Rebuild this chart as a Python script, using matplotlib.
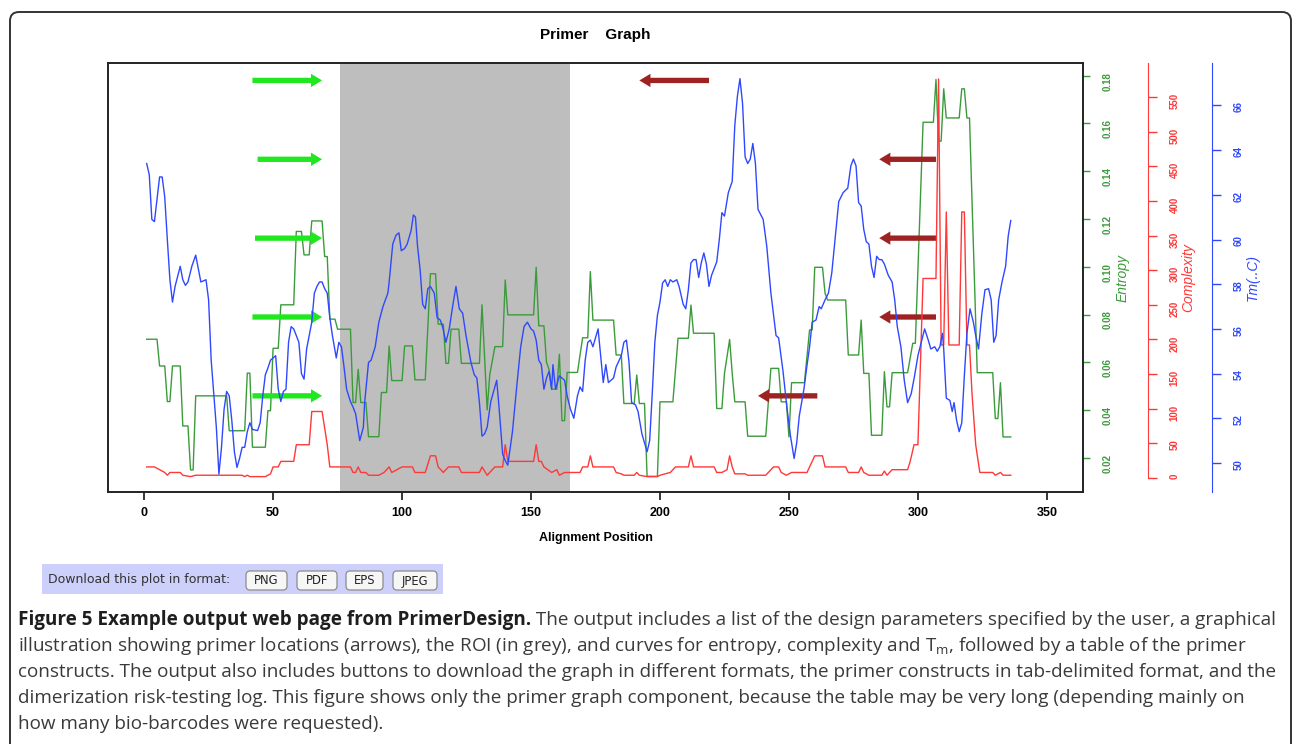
import matplotlib.pyplot as plt
from matplotlib.patches import FancyBboxPatch, Rectangle

# ---- data ----
ent_pos = [1, 5, 6, 8, 9, 10, 11, 14, 15, 17, 18, 19, 20, 32, 33, 39, 40, 41, 42, 47,
           48, 49, 50, 52, 53, 58, 59, 61, 62, 64, 65, 69, 70, 71, 72, 74, 75, 80, 81, 82,
           83, 84, 86, 87, 91, 92, 94, 95, 96, 100, 101, 104, 105, 109, 111, 113, 114, 116, 117, 118,
           119, 122, 123, 130, 131, 133, 134, 136, 139, 140, 141, 151, 152, 153, 155, 156, 157, 158, 160, 161,
           162, 163, 164, 168, 170, 172, 173, 174, 182, 183, 185, 186, 190, 191, 192, 194, 195, 199, 200, 205,
           207, 211, 212, 213, 221, 222, 224, 225, 227, 228, 229, 233, 234, 241, 243, 246, 247, 249, 250, 251,
           256, 258, 259, 260, 263, 264, 265, 272, 273, 277, 278, 279, 281, 282, 286, 287, 288, 289, 290, 296,
           298, 299, 302, 306, 307, 308, 309, 310, 311, 316, 317, 318, 319, 320, 323, 329, 330, 331, 332, 333,
           336]
ent_val = [.0697, .0697, .0585, .0585, .0436, .0436, .0585, .0585, .0334, .0334, .015, .015, .046, .046, .0314, .0314, .0555, .0555, .0245, .0245,
           .0398, .0398, .0659, .0659, .0841, .0841, .1148, .1148, .105, .105, .1192, .1192, .1043, .1043, .0781, .0781, .0739, .0739, .0432, .0432,
           .0571, .0432, .0432, .0289, .0289, .0474, .0474, .0669, .0524, .0524, .0669, .0669, .0527, .0527, .0971, .0971, .076, .076, .0596, .0596,
           .0739, .0739, .0596, .0596, .0841, .0401, .0548, .0666, .0666, .0945, .0799, .0799, .0998, .0753, .0753, .0601, .057, .0488, .0488, .0634,
           .0356, .0356, .0558, .0558, .0703, .0703, .098, .0777, .0777, .0631, .0631, .0428, .0428, .0547, .0428, .0428, .0123, .0123, .0435, .0435,
           .0701, .0701, .084, .0722, .0722, .0407, .0407, .0554, .0696, .0554, .0435, .0435, .0291, .0291, .0575, .0575, .0435, .0435, .0288, .0515,
           .0515, .0736, .0736, .0998, .0998, .0889, .0861, .0861, .0631, .0631, .0777, .0554, .0554, .0295, .0295, .0561, .0414, .0414, .0557, .0557,
           .068, .068, .1605, .1605, .1784, .1526, .1526, .1745, .1623, .1623, .1745, .1745, .1623, .1623, .0557, .0557, .0365, .0365, .0515, .0288,
           .0288]

cx_pos = [1, 4, 6, 8, 9, 10, 14, 15, 18, 20, 38, 39, 40, 41, 47, 49, 50, 52, 53, 58,
          59, 64, 65, 69, 71, 72, 80, 81, 82, 83, 84, 86, 87, 91, 93, 95, 96, 100, 104, 105,
          109, 111, 113, 114, 116, 118, 122, 123, 130, 131, 133, 134, 136, 139, 140, 141, 151, 152, 153, 154,
          155, 158, 160, 161, 163, 169, 170, 172, 173, 174, 182, 183, 185, 186, 190, 191, 192, 195, 199, 200,
          204, 206, 211, 212, 213, 221, 222, 224, 226, 227, 228, 229, 233, 234, 241, 242, 244, 246, 247, 249,
          251, 257, 258, 260, 263, 264, 272, 273, 277, 278, 279, 281, 286, 287, 288, 290, 296, 297, 298.5, 300,
          302, 307, 308, 309, 310, 311, 312, 316, 317, 318, 319, 320, 321, 322.4, 324, 329, 330, 332, 333, 336]
cx_val = [16, 16, 12, 8, 4, 8, 8, 4, 2, 4, 4, 2, 4, 2, 2, 6, 16, 16, 24, 24,
          48, 48, 96, 96, 48, 16, 16, 8, 8, 16, 8, 8, 4, 4, 8, 16, 8, 16, 16, 8,
          8, 32, 32, 16, 8, 16, 16, 8, 8, 16, 4, 8, 16, 16, 48, 24, 24, 48, 24, 24,
          16, 8, 12, 4, 8, 8, 16, 16, 32, 16, 16, 8, 6, 4, 4, 8, 4, 2, 2, 4,
          8, 16, 16, 32, 16, 16, 8, 8, 12, 32, 16, 6, 6, 4, 4, 8, 16, 16, 8, 4,
          8, 8, 16, 32, 32, 16, 16, 8, 8, 16, 8, 4, 4, 10, 4, 12, 12, 24, 48, 48,
          288, 288, 576, 192, 192, 384, 192, 192, 384, 384, 192, 192, 120, 48, 8, 8, 4, 8, 4, 4]

tm_pos = [1, 2, 3, 4, 5, 6, 7, 8, 9, 10, 11, 12, 14, 15, 16, 17, 18.5, 20, 21, 22,
          24, 25, 26, 28, 29, 30, 31, 32, 33, 34, 35, 36, 37, 38, 39, 40, 41, 42, 44, 45,
          46, 47, 48, 49, 51, 52, 53, 54, 55, 56, 57, 58, 60, 61, 62, 63, 65, 66, 67, 68,
          69, 70, 71, 72, 73, 74.5, 75.5, 76.5, 77.5, 78.5, 80, 81, 82, 83.6, 85, 85.5, 87, 88, 89.6, 91,
          92.6, 94.5, 95, 96.4, 97.7, 98.8, 99.7, 101, 102, 103.5, 104.4, 105.2, 106, 107, 108, 109, 110, 111, 112.5, 113.6,
          114.8, 115.7, 117, 118.3, 119.6, 120.9, 122.2, 123.5, 124.8, 126.7, 128, 129, 130, 131, 132, 133, 134.4, 136.7, 137.6, 139,
          140, 141, 142.8, 144.7, 146, 147.3, 148.6, 150, 151, 152, 153, 154, 155, 156, 157, 158, 158.5, 159.5, 161, 163,
          164, 165.3, 166.6, 168, 169, 170, 171, 172, 173, 174, 176, 177, 178, 179, 180, 182, 183, 185, 186, 187,
          188, 189, 190.5, 191.5, 193, 194, 195, 196, 197, 198, 199, 200, 201, 202, 203, 204, 205, 206.5, 207.4, 209,
          210, 211, 212, 213, 214, 215, 216, 217, 218, 219, 220, 222, 223, 224, 225, 226.5, 228, 229, 230, 231,
          232, 233, 234, 235, 236, 237, 238, 240, 241.4, 243, 245, 246, 247.7, 249.3, 250.6, 252, 253, 254, 255.8, 256.8,
          258, 259, 260.5, 261.7, 262.5, 264, 265.3, 266.6, 268, 269.3, 271, 272.8, 274, 275, 276, 277, 278, 279, 280, 281,
          282, 283, 284, 285, 286, 287, 288.5, 290, 291, 292, 293.4, 294.7, 296, 297.4, 298.7, 300, 301.3, 302.6, 304, 305,
          306.5, 307.5, 308.5, 309.5, 310, 311, 312.4, 313.3, 314, 315, 316, 317, 318, 319, 320.2, 321.5, 322.4, 323.5, 324.8, 326,
          327.4, 328.4, 329.4, 330.3, 331.3, 332.6, 334, 335, 336]
tm_val = [63.4, 62.9, 60.9, 60.8, 61.8, 62.8, 62.8, 61.9, 60.0, 58.2, 57.2, 57.9, 58.8, 58.2, 57.95, 58.1, 58.8, 59.3, 58.7, 58.1,
          58.2, 57.3, 54.6, 51.6, 49.5, 50.7, 52.4, 53.2, 53.0, 51.9, 50.5, 49.8, 50.2, 50.7, 50.7, 51.4, 51.8, 51.5, 51.45, 51.8,
          53.0, 53.95, 54.25, 54.6, 54.8, 53.3, 52.75, 53.2, 53.3, 55.4, 56.1, 56.0, 55.4, 54.0, 53.75, 55.1, 56.3, 57.6, 57.9, 58.1,
          58.1, 57.8, 57.6, 56.5, 55.7, 54.7, 55.4, 55.2, 54.3, 53.3, 52.75, 52.5, 52.2, 51.0, 51.6, 52.7, 54.5, 54.6, 55.2, 56.3,
          57.0, 57.6, 58.1, 59.8, 60.2, 60.3, 59.5, 59.6, 59.8, 60.4, 61.1, 61.0, 59.7, 58.65, 57.1, 56.9, 57.8, 57.9, 57.6, 56.5,
          56.4, 56.1, 55.4, 56.0, 57.0, 57.9, 56.9, 56.7, 55.7, 54.5, 53.95, 53.8, 52.7, 51.2, 51.3, 51.6, 52.75, 53.7, 52.5, 50.4,
          50.1, 49.9, 51.4, 53.7, 55.2, 56.1, 56.3, 56.0, 55.9, 55.5, 54.6, 54.4, 53.3, 53.8, 54.1, 53.3, 54.4, 53.3, 53.9, 53.7,
          53.0, 52.4, 52.0, 53.0, 53.4, 53.2, 54.6, 55.4, 55.5, 55.2, 56.0, 54.8, 53.6, 54.4, 53.6, 53.8, 54.3, 54.8, 55.4, 55.5,
          54.5, 52.7, 52.6, 52.3, 51.3, 50.9, 50.5, 51.0, 53.1, 55.4, 56.6, 57.2, 58.05, 58.2, 57.9, 58.2, 58.1, 58.2, 57.9, 57.1,
          56.9, 57.75, 58.95, 59.1, 59.1, 58.3, 58.95, 59.4, 58.9, 57.9, 58.4, 59.0, 60.0, 61.2, 61.05, 62.1, 62.6, 65.1, 66.4, 67.2,
          66.1, 63.7, 63.4, 63.6, 64.3, 63.4, 61.35, 60.9, 59.7, 57.6, 55.7, 55.6, 54.1, 52.4, 51.2, 50.2, 50.9, 52.1, 53.3, 54.2,
          55.2, 56.3, 56.4, 57.0, 56.9, 57.3, 57.6, 58.5, 60.15, 61.7, 62.1, 62.3, 63.3, 63.6, 63.3, 61.65, 61.5, 60.45, 59.9, 59.8,
          58.8, 58.3, 59.25, 59.1, 59.1, 58.9, 58.4, 58.1, 57.3, 56.1, 55.2, 53.7, 52.7, 53.1, 53.9, 54.8, 55.4, 56.0, 55.5, 55.1,
          55.2, 55.0, 55.2, 55.8, 55.1, 52.9, 52.8, 52.3, 52.7, 51.9, 51.4, 51.8, 53.9, 55.8, 56.9, 56.3, 55.7, 55.1, 56.7, 57.75,
          57.8, 57.3, 55.4, 55.7, 57.3, 58.1, 58.8, 60.15, 60.85]

roi_start, roi_end = 76, 165

# primer arrows: forward (green) and reverse (dark red)
arrow_rows = [0.178, 0.145, 0.112, 0.079, 0.046]
fwd_start = [42, 44, 43, 42, 42]
fwd_end = [69, 69, 69, 69, 69]
rev_start = [219, 307, 307, 307, 261]
rev_end = [192, 285, 285, 285, 238]

x_ticks = [0, 50, 100, 150, 200, 250, 300, 350]
ent_ticks = [0.02, 0.04, 0.06, 0.08, 0.10, 0.12, 0.14, 0.16, 0.18]
cx_ticks = [0, 50, 100, 150, 200, 250, 300, 350, 400, 450, 500, 550]
tm_ticks = [50, 52, 54, 56, 58, 60, 62, 64, 66]

caption_bold = "Figure 5 Example output web page from PrimerDesign."
caption_lines = [
    " The output includes a list of the design parameters specified by the user, a graphical",
    "illustration showing primer locations (arrows), the ROI (in grey), and curves for entropy, complexity and T$_\\mathregular{m}$, followed by a table of the primer",
    "constructs. The output also includes buttons to download the graph in different formats, the primer constructs in tab-delimited format, and the",
    "dimerization risk-testing log. This figure shows only the primer graph component, because the table may be very long (depending mainly on",
    "how many bio-barcodes were requested).",
]
buttons = ["PNG", "PDF", "EPS", "JPEG"]

GREEN = "#3b9b3b"
RED = "#ff3838"
BLUE = "#2f48ff"
ARROW_G = "#1fe81f"
ARROW_R = "#9e2222"

plt.rcParams['font.family'] = ['Liberation Sans', 'DejaVu Sans']

W, H = 1293, 744
fig = plt.figure(figsize=(W / 100, H / 100), dpi=100)

# page background: frame, download bar, caption (pixel coordinates)
bg = fig.add_axes([0, 0, 1, 1], zorder=0)
bg.set_xlim(0, W)
bg.set_ylim(H, 0)
bg.axis("off")
bg.add_patch(FancyBboxPatch((10, 12), 1281, 820, boxstyle="round,pad=0,rounding_size=9",
                            fill=False, ec="#333333", lw=1.4))
bg.add_patch(Rectangle((42, 564), 401, 30, fc="#ccd0fa", ec="none"))
bg.text(48, 580, "Download this plot in format:", family="DejaVu Sans", fontsize=9.0,
        color="#333333", va="center")
bx = [246, 297, 346, 393]
bw = [41, 40, 37, 44]
for lab, x0, w0 in zip(buttons, bx, bw):
    bg.add_patch(FancyBboxPatch((x0, 571), w0, 19, boxstyle="round,pad=0,rounding_size=4",
                                fc="#f6f6f6", ec="#8c8c8c", lw=0.9))
    bg.text(x0 + w0 / 2, 581, lab, family="DejaVu Sans", fontsize=8.3, color="#222222",
            ha="center", va="center")

cap_font = dict(family=["Open Sans", "DejaVu Sans"], fontsize=13.6, color="#3a3a3a")
base = [625, 651, 677, 703, 729]
tb = bg.text(18, base[0], caption_bold, fontweight="bold", va="baseline",
             **{**cap_font, "color": "#1e1e1e"})
fig.canvas.draw()
x_after = tb.get_window_extent().x1
bg.text(x_after, base[0], caption_lines[0], va="baseline", **cap_font)
for yb, line in zip(base[1:], caption_lines[1:]):
    bg.text(18, yb, line, va="baseline", **cap_font)

# plot area
ax = fig.add_axes([108 / W, (H - 492) / H, 975 / W, 429 / H], zorder=1)
ax_cx = ax.twinx()
ax_tm = ax.twinx()
ax_cx.set_zorder(2)
ax_tm.set_zorder(3)

ax.axvspan(roi_start, roi_end, color="#bebebe", lw=0, zorder=0)
ax.plot(ent_pos, ent_val, color=GREEN, lw=1.0, zorder=2)
for y, s, e in zip(arrow_rows, fwd_start, fwd_end):
    ax.annotate("", xy=(e, y), xytext=(s, y),
                arrowprops=dict(arrowstyle="simple,head_length=1.0,head_width=1.2,tail_width=0.48",
                                mutation_scale=8, color=ARROW_G, lw=0, shrinkA=0, shrinkB=0))
for y, s, e in zip(arrow_rows, rev_start, rev_end):
    ax.annotate("", xy=(e, y), xytext=(s, y),
                arrowprops=dict(arrowstyle="simple,head_length=1.0,head_width=1.2,tail_width=0.48",
                                mutation_scale=8, color=ARROW_R, lw=0, shrinkA=0, shrinkB=0))
ax_cx.plot(cx_pos, cx_val, color=RED, lw=1.0)
ax_tm.plot(tm_pos, tm_val, color=BLUE, lw=1.0)

ax.set_xlim(-14, 364)
ax.set_ylim(0.00576, 0.1853)
ax_cx.set_ylim(-20.2, 599)
ax_tm.set_ylim(48.7, 67.9)

ax.set_xticks(x_ticks)
ax.tick_params(axis="x", length=6, width=1.1, pad=5, labelsize=9)
for t in ax.get_xticklabels():
    t.set_fontweight("bold")
for s in ax.spines.values():
    s.set_linewidth(1.4)
    s.set_color("#222222")

ax.yaxis.tick_right()
ax.set_yticks(ent_ticks)
ax.set_yticklabels([f"{v:.2f}" for v in ent_ticks])
ax.tick_params(axis="y", colors=GREEN, length=5, width=1, pad=9, labelsize=7, labelrotation=90)

for a in (ax_cx, ax_tm):
    for side in ("left", "top", "bottom"):
        a.spines[side].set_visible(False)

ax_cx.spines["right"].set_position(("axes", 1.0667))
ax_cx.spines["right"].set_bounds(0, 599)
ax_cx.spines["right"].set_color(RED)
ax_cx.set_yticks(cx_ticks)
ax_cx.tick_params(axis="y", colors=RED, length=6.5, width=1, pad=9, labelsize=7, labelrotation=90)

ax_tm.spines["right"].set_position(("axes", 1.1323))
ax_tm.spines["right"].set_color(BLUE)
ax_tm.set_yticks(tm_ticks)
ax_tm.tick_params(axis="y", colors=BLUE, length=6.5, width=1, pad=9, labelsize=7, labelrotation=90)

for a in (ax, ax_cx, ax_tm):
    for t in a.get_yticklabels():
        t.set_fontweight("bold")

ax.yaxis.set_label_position("right")
for a, lab, col, xc in ((ax, "Entropy", GREEN, 1.041), (ax_cx, "Complexity", RED, 1.1077),
                        (ax_tm, "Tm(..C)", BLUE, 1.1744)):
    a.set_ylabel(lab, color=col, style="italic", fontsize=10)
    a.yaxis.set_label_coords(xc, 0.5)
    a.yaxis.label.set_va("center")
    a.yaxis.label.set_ha("center")

ax.set_xlabel("Alignment Position", fontsize=9, fontweight="bold")
ax.xaxis.set_label_coords(0.5, -0.107)
ax.xaxis.label.set_va("center")
ax.text(0.5, 1.065, "Primer    Graph", transform=ax.transAxes, ha="center", va="center",
        fontsize=11, fontweight="bold")

fig.savefig("out.png", dpi=100)
